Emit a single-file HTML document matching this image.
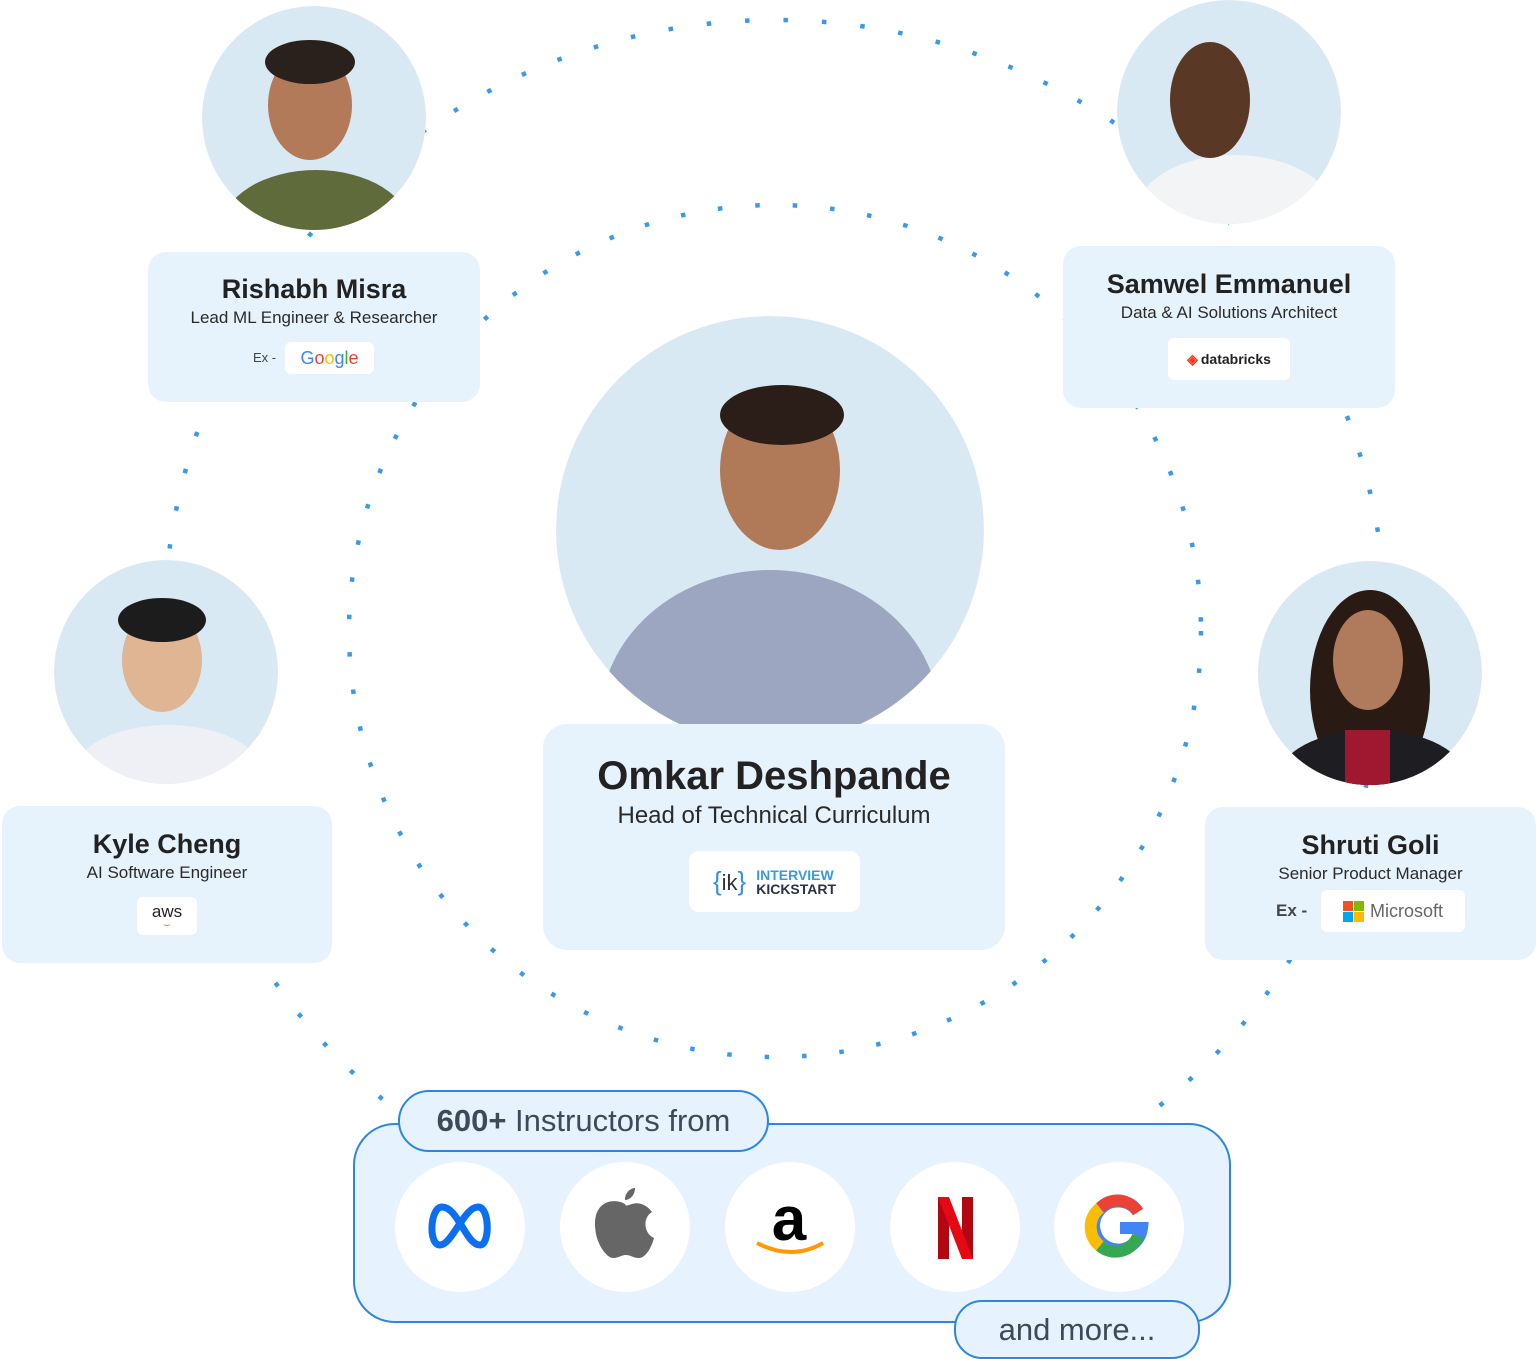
<!DOCTYPE html>
<html><head><meta charset="utf-8"><style>
body{margin:0;width:1536px;height:1359px;background:#fff;position:relative;overflow:hidden;font-family:"Liberation Sans",Arial,sans-serif;color:#222}
.card{position:absolute;background:#e6f3fd;border-radius:18px;text-align:center}
.nm{position:absolute;left:0;right:0;font-weight:bold;color:#222}
.sb{position:absolute;left:0;right:0;color:#2a2a2a}
.pill{position:absolute;background:#fff;border-radius:6px;display:flex;align-items:center;justify-content:center}
svg{position:absolute;left:0;top:0}
</style></head><body>
<svg width="1536" height="1359">
<circle cx="775" cy="631" r="611" fill="none" stroke="#3a9ae8" stroke-width="4.5" stroke-dasharray="4.5 34"/>
<circle cx="775" cy="631" r="426" fill="none" stroke="#3a9ae8" stroke-width="4.5" stroke-dasharray="4.5 33"/>
<defs>
<clipPath id="c1"><circle cx="314" cy="118" r="112"/></clipPath>
<clipPath id="c2"><circle cx="1229" cy="112" r="112"/></clipPath>
<clipPath id="c3"><circle cx="166" cy="672" r="112"/></clipPath>
<clipPath id="c4"><circle cx="1370" cy="673" r="112"/></clipPath>
<clipPath id="c5"><circle cx="770" cy="530" r="214"/></clipPath>
</defs>
<g clip-path="url(#c1)"><circle cx="314" cy="118" r="112" fill="#d9e9f4"/><ellipse cx="316" cy="230" rx="95" ry="60" fill="#5f6b3a"/><ellipse cx="310" cy="105" rx="42" ry="55" fill="#b27a58"/><ellipse cx="310" cy="62" rx="45" ry="22" fill="#2a211c"/></g>
<g clip-path="url(#c2)"><circle cx="1229" cy="112" r="112" fill="#d9e9f4"/><ellipse cx="1235" cy="215" rx="100" ry="60" fill="#f2f4f6"/><ellipse cx="1210" cy="100" rx="40" ry="58" fill="#5a3826"/></g>
<g clip-path="url(#c3)"><circle cx="166" cy="672" r="112" fill="#d9e9f4"/><ellipse cx="168" cy="775" rx="95" ry="50" fill="#eef0f6"/><ellipse cx="162" cy="660" rx="40" ry="52" fill="#e0b594"/><ellipse cx="162" cy="620" rx="44" ry="22" fill="#1c1c1c"/></g>
<g clip-path="url(#c4)"><circle cx="1370" cy="673" r="112" fill="#d9e9f4"/><ellipse cx="1370" cy="690" rx="60" ry="100" fill="#2a1a14"/><ellipse cx="1372" cy="780" rx="95" ry="50" fill="#1e1e22"/><rect x="1345" y="730" width="45" height="60" fill="#a01830"/><ellipse cx="1368" cy="660" rx="35" ry="50" fill="#b07a5c"/></g>
<g clip-path="url(#c5)"><circle cx="770" cy="530" r="214" fill="#d9e9f4"/><ellipse cx="770" cy="720" rx="170" ry="150" fill="#9ca6c0"/><ellipse cx="780" cy="470" rx="60" ry="80" fill="#b07a58"/><ellipse cx="782" cy="415" rx="62" ry="30" fill="#2b1e18"/></g>
</svg>

<div class="card" style="left:148px;top:252px;width:332px;height:150px">
<div class="nm" style="top:22px;font-size:27px">Rishabh Misra</div>
<div class="sb" style="top:56px;font-size:17px">Lead ML Engineer &amp; Researcher</div>
<div style="position:absolute;left:105px;top:98px;font-size:13px;color:#444">Ex -</div>
<div class="pill" style="left:137px;top:90px;width:89px;height:32px;font-size:18px"><span style="color:#4285f4">G</span><span style="color:#ea4335">o</span><span style="color:#fbbc05">o</span><span style="color:#4285f4">g</span><span style="color:#34a853">l</span><span style="color:#ea4335">e</span></div>
</div>

<div class="card" style="left:1063px;top:246px;width:332px;height:162px">
<div class="nm" style="top:23px;font-size:27px">Samwel Emmanuel</div>
<div class="sb" style="top:57px;font-size:17px">Data &amp; AI Solutions Architect</div>
<div class="pill" style="left:105px;top:92px;width:122px;height:42px;font-size:14px;font-weight:bold;color:#222"><span style="color:#ff3621;margin-right:3px">◈</span>databricks</div>
</div>

<div class="card" style="left:2px;top:806px;width:330px;height:157px">
<div class="nm" style="top:23px;font-size:27px">Kyle Cheng</div>
<div class="sb" style="top:57px;font-size:17px">AI Software Engineer</div>
<div class="pill" style="left:135px;top:91px;width:60px;height:38px;font-size:17px;color:#222;flex-direction:column;line-height:16px">aws<span style="color:#f90;font-size:12px;line-height:8px">⌣</span></div>
</div>

<div class="card" style="left:1205px;top:807px;width:331px;height:153px">
<div class="nm" style="top:23px;font-size:27px">Shruti Goli</div>
<div class="sb" style="top:57px;font-size:17px">Senior Product Manager</div>
<div style="position:absolute;left:71px;top:94px;font-size:17px;font-weight:bold;color:#444">Ex -</div>
<div class="pill" style="left:116px;top:83px;width:144px;height:42px;font-size:18px;color:#666"><span style="display:inline-grid;grid-template-columns:10px 10px;gap:1px;margin-right:6px"><i style="background:#f25022;height:10px"></i><i style="background:#7fba00"></i><i style="background:#00a4ef;height:10px"></i><i style="background:#ffb900"></i></span>Microsoft</div>
</div>

<div class="card" style="left:543px;top:724px;width:462px;height:226px;border-radius:24px">
<div class="nm" style="top:30px;font-size:40px">Omkar Deshpande</div>
<div class="sb" style="top:78px;font-size:24px">Head of Technical Curriculum</div>
<div class="pill" style="left:146px;top:127px;width:171px;height:61px;border-radius:10px"><span style="color:#3a8fd6;font-size:26px;margin-right:10px">{<span style="color:#333;font-size:22px">ik</span>}</span><span style="font-weight:bold;font-size:14px;line-height:14px;text-align:left"><span style="color:#3a9ae0">INTERVIEW</span><br><span style="color:#2a3344">KICKSTART</span></span></div>
</div>

<div style="position:absolute;left:353px;top:1123px;width:874px;height:196px;border:2.5px solid #2d86e0;border-radius:42px;background:#e6f2fd"></div>
<div style="position:absolute;left:398px;top:1090px;width:367px;height:58px;border:2.5px solid #2d86e0;border-radius:31px;background:#e6f2fd;font-size:31px;color:#3d4a58;display:flex;align-items:center;justify-content:center"><b>600+</b>&nbsp;Instructors from</div>
<div style="position:absolute;left:954px;top:1300px;width:242px;height:55px;border:2.5px solid #2d86e0;border-radius:28px;background:#e6f2fd;font-size:31px;color:#3d4a58;display:flex;align-items:center;justify-content:center">and more...</div>
<svg width="1536" height="1359" style="pointer-events:none">
<g fill="#fff"><circle cx="460" cy="1227" r="65"/><circle cx="625" cy="1227" r="65"/><circle cx="790" cy="1227" r="65"/><circle cx="955" cy="1227" r="65"/><circle cx="1119" cy="1227" r="65"/></g>
<path d="M440 1245C428 1245 430 1207 442 1207C458 1207 466 1245 480 1245C490 1245 490 1207 478 1207C464 1207 452 1245 440 1245Z" fill="none" stroke="#0b6ff0" stroke-width="7" stroke-linejoin="round"/>
<path d="M625 1204c-10-6-30-4-30 20 0 20 12 34 18 34 6 0 8-3 13-3s7 3 13 3c7 0 13-12 15-20-10-4-12-20-2-26-6-8-14-10-20-8-4 1-6 3-7 0z M625 1200c0-8 6-12 10-12 0 8-6 12-10 12z" fill="#666"/>
<text x="789" y="1240" font-size="62" font-weight="bold" text-anchor="middle" font-family="Liberation Sans">a</text>
<path d="M757 1243q35 18 66 0" fill="none" stroke="#f90" stroke-width="4"/>
<g><rect x="938" y="1197" width="11" height="62" fill="#b20710"/><rect x="962" y="1197" width="11" height="62" fill="#b20710"/><path d="M938 1197h11l24 62h-11z" fill="#e50914"/></g>
<path d="M1138 1212a24 24 0 1 0 4 16h-22" fill="none" stroke="#4285f4" stroke-width="12"/>
<path d="M1138 1212a24 24 0 0 0-38-4" fill="none" stroke="#ea4335" stroke-width="12"/>
<path d="M1100 1208a24 24 0 0 0 0 38" fill="none" stroke="#fbbc05" stroke-width="12"/>
<path d="M1100 1246a24 24 0 0 0 38-10" fill="none" stroke="#34a853" stroke-width="12"/>
</svg>
</body></html>
